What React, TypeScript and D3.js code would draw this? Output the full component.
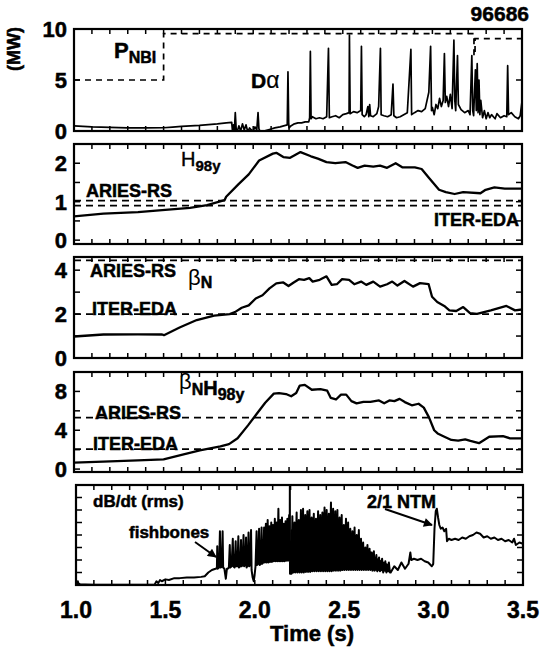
import React from "react";
import * as d3 from "d3";

// ---------- data ----------
const xTickLabels = ["1.0", "1.5", "2.0", "2.5", "3.0", "3.5"];
const xTickLabelValues = [1.0, 1.5, 2.0, 2.5, 3.0, 3.5];
const shotNumber = "96686";

const p1YLabels = [0, 5, 10];
const p2YLabels = [0, 1, 2];
const p3YLabels = [0, 2, 4];
const p4YLabels = [0, 4, 8];

// P_NBI (MW), dashed
const pnbi: [number, number][] = [
  [1.0, 5.0], [1.5, 5.0], [1.5, 9.55], [3.232, 9.55], [3.232, 7.4], [3.238, 7.4], [3.238, 9.05], [3.5, 9.05],
];

// D-alpha (a.u. on MW axis)
const dAlpha: [number, number][] = [
  [1.0, 0.5], [1.05, 0.45], [1.1, 0.4], [1.2, 0.35], [1.3, 0.3], [1.4, 0.3], [1.5, 0.32], [1.55, 0.38],
  [1.6, 0.45], [1.65, 0.5], [1.7, 0.55], [1.75, 0.62], [1.8, 0.7], [1.85, 0.8], [1.88, 0.85], [1.885, -0.1],
  [1.89, 0.6], [1.895, 0.0], [1.9, 1.8], [1.905, 0.2], [1.91, -0.1], [1.92, 0.5], [1.93, 0.0], [1.94, 0.7],
  [1.95, 0.1], [1.96, 0.6], [1.97, -0.1], [1.98, 0.3], [1.99, 0.1], [2.0, 0.0], [2.01, 0.4], [2.02, 0.1],
  [2.027, 1.8], [2.032, 0.2], [2.04, -0.1], [2.06, 0.0], [2.08, 0.1], [2.1, 0.2], [2.12, 0.3], [2.15, 0.4],
  [2.17, 0.5], [2.19, 0.6], [2.194, 5.8], [2.198, 0.8], [2.2, 0.3], [2.21, 0.5], [2.23, 0.7], [2.25, 0.8],
  [2.27, 0.8], [2.29, 0.9], [2.31, 0.9], [2.315, 1.3], [2.319, 7.8], [2.323, 1.2], [2.33, 1.4], [2.35, 1.2],
  [2.37, 1.3], [2.39, 1.2], [2.41, 1.4], [2.42, 8.1], [2.425, 1.3], [2.44, 1.4], [2.46, 1.5], [2.48, 1.3],
  [2.5, 1.6], [2.52, 1.7], [2.535, 1.8], [2.537, 9.4], [2.541, 1.7], [2.56, 1.9], [2.58, 1.8], [2.6, 2.0],
  [2.604, 8.3], [2.608, 1.6], [2.62, 1.4], [2.63, 1.6], [2.64, 2.4], [2.645, 1.4], [2.65, 2.6], [2.655, 1.5],
  [2.67, 1.4], [2.69, 1.7], [2.7, 2.4], [2.71, 8.1], [2.714, 1.6], [2.73, 1.5], [2.75, 1.4], [2.77, 1.6],
  [2.78, 4.6], [2.785, 1.5], [2.8, 1.3], [2.82, 1.4], [2.84, 1.6], [2.86, 1.8], [2.88, 8.0], [2.884, 1.6],
  [2.9, 1.8], [2.92, 2.0], [2.94, 1.9], [2.96, 2.2], [2.98, 3.8], [2.99, 8.3], [2.995, 2.0], [3.0, 2.3],
  [3.01, 1.6], [3.02, 2.6], [3.03, 2.2], [3.04, 3.2], [3.05, 2.4], [3.06, 3.0], [3.067, 7.6], [3.072, 2.8],
  [3.08, 3.4], [3.09, 2.4], [3.1, 3.6], [3.11, 2.2], [3.12, 8.9], [3.125, 3.0], [3.13, 2.0], [3.14, 7.4],
  [3.145, 2.6], [3.16, 2.1], [3.18, 1.8], [3.2, 2.0], [3.21, 1.6], [3.22, 7.4], [3.225, 2.0], [3.23, 1.5],
  [3.24, 6.0], [3.245, 2.0], [3.25, 6.6], [3.255, 1.8], [3.26, 5.0], [3.265, 1.6], [3.27, 3.0], [3.28, 1.3],
  [3.29, 2.0], [3.3, 1.2], [3.31, 1.8], [3.32, 1.3], [3.33, 1.6], [3.35, 1.2], [3.36, 1.7], [3.38, 1.3],
  [3.4, 1.5], [3.415, 1.4], [3.42, 6.4], [3.425, 1.6], [3.44, 1.8], [3.46, 1.4], [3.48, 1.2], [3.49, 1.5],
  [3.5, 2.9],
];

// H98y
const h98y: [number, number][] = [
  [1.0, 0.62], [1.164, 0.69], [1.357, 0.73], [1.492, 0.78], [1.647, 0.84], [1.743, 0.91], [1.84, 1.04],
  [1.849, 1.13], [1.917, 1.45], [1.975, 1.71], [2.033, 2.07], [2.11, 2.25], [2.129, 2.27], [2.168, 2.16],
  [2.206, 2.14], [2.264, 2.29], [2.322, 2.18], [2.361, 2.12], [2.409, 2.03], [2.458, 2.0], [2.515, 2.03],
  [2.554, 1.94], [2.583, 1.88], [2.622, 1.94], [2.67, 1.91], [2.708, 1.94], [2.747, 1.88], [2.795, 2.0],
  [2.834, 1.89], [2.902, 1.89], [2.94, 1.85], [2.979, 1.63], [3.037, 1.31], [3.075, 1.25], [3.124, 1.2],
  [3.172, 1.25], [3.268, 1.22], [3.297, 1.31], [3.346, 1.37], [3.404, 1.34], [3.5, 1.34],
];
const h98yAries = 1.03;
const h98yIter = 0.9;

// beta_N
const betaN: [number, number][] = [
  [1.0, 0.98], [1.164, 1.07], [1.357, 1.08], [1.492, 1.07], [1.502, 1.04], [1.589, 1.39], [1.685, 1.73],
  [1.782, 1.93], [1.869, 2.0], [1.898, 2.09], [1.936, 2.29], [1.975, 2.4], [2.014, 2.71], [2.052, 2.86],
  [2.091, 3.17], [2.129, 3.4], [2.168, 3.44], [2.197, 3.28], [2.226, 3.44], [2.255, 3.59], [2.284, 3.56],
  [2.313, 3.64], [2.332, 3.48], [2.371, 3.56], [2.409, 3.72], [2.438, 3.33], [2.467, 3.36], [2.496, 3.59],
  [2.535, 3.56], [2.564, 3.36], [2.602, 3.48], [2.631, 3.33], [2.67, 3.48], [2.708, 3.25], [2.747, 3.36],
  [2.776, 3.48], [2.805, 3.3], [2.844, 3.51], [2.892, 3.25], [2.931, 3.41], [2.979, 3.36], [2.998, 2.79],
  [3.027, 2.55], [3.066, 2.37], [3.095, 2.17], [3.133, 2.14], [3.172, 2.32], [3.21, 2.04], [3.249, 2.01],
  [3.326, 2.17], [3.413, 2.37], [3.461, 2.17], [3.5, 2.21],
];
const betaNAries = 4.45;
const betaNIter = 2.0;

// beta_N * H98y
const betaNH: [number, number][] = [
  [1.0, 0.67], [1.163, 0.77], [1.356, 0.9], [1.5, 1.0], [1.606, 1.5], [1.702, 1.93], [1.817, 2.33],
  [1.865, 2.57], [1.913, 3.17], [1.971, 4.5], [2.019, 5.67], [2.067, 6.83], [2.115, 7.77], [2.144, 7.83],
  [2.183, 7.73], [2.212, 7.5], [2.24, 7.83], [2.26, 8.6], [2.288, 8.67], [2.327, 8.17], [2.375, 8.23],
  [2.413, 8.07], [2.433, 7.33], [2.462, 7.17], [2.49, 7.67], [2.519, 7.67], [2.548, 7.0], [2.577, 6.77],
  [2.615, 6.93], [2.654, 6.93], [2.702, 7.07], [2.731, 6.77], [2.76, 7.07], [2.788, 7.0], [2.817, 7.23],
  [2.846, 6.9], [2.885, 6.57], [2.923, 6.73], [2.952, 6.33], [2.981, 5.33], [3.01, 4.0], [3.029, 3.67],
  [3.067, 3.33], [3.106, 3.0], [3.144, 2.93], [3.183, 3.07], [3.212, 2.9], [3.26, 2.67], [3.317, 3.33],
  [3.394, 3.4], [3.433, 3.17], [3.5, 3.17],
];
const betaNHAries = 5.3;
const betaNHIter = 2.05;

// dB/dt (rms), arbitrary units 0-8
const dbdt: [number, number][] = [
  [1.0, 0.25], [1.005, 0.15], [1.01, 0.3], [1.015, 0.1], [1.025, 0.05], [1.05, 0.05], [1.1, 0.03],
  [1.2, 0.03], [1.3, 0.03], [1.4, 0.03], [1.44, 0.05], [1.45, 0.3], [1.46, 0.15], [1.47, 0.4], [1.48, 0.3],
  [1.5, 0.45], [1.52, 0.4], [1.55, 0.55], [1.58, 0.55], [1.62, 0.6], [1.66, 0.6], [1.7, 0.65], [1.72, 0.7],
  [1.74, 1.0], [1.76, 1.2], [1.78, 1.3], [1.788, 1.35], [1.79, 3.1], [1.792, 1.3], [1.8, 1.4], [1.805, 4.3],
  [1.808, 1.4], [1.815, 1.45], [1.82, 4.3], [1.823, 1.4], [1.83, 1.3], [1.838, 0.5], [1.844, 1.3],
  [1.848, 1.3], [1.855, 1.4], [1.86, 3.2], [1.863, 1.4], [1.87, 1.5], [1.877, 3.7], [1.88, 1.5],
  [1.887, 1.4], [1.893, 3.5], [1.896, 1.5], [1.903, 1.5], [1.908, 3.9], [1.911, 1.4], [1.918, 1.5],
  [1.923, 3.6], [1.926, 1.5], [1.932, 1.6], [1.937, 4.0], [1.94, 1.5], [1.946, 1.6], [1.951, 3.8],
  [1.954, 1.4], [1.96, 1.6], [1.965, 4.2], [1.968, 1.5], [1.974, 1.6], [1.979, 4.4], [1.982, 1.2],
  [1.988, 0.6], [1.994, 0.3], [1.999, 0.8], [2.004, 1.5], [2.01, 4.3], [2.013, 1.6], [2.018, 1.7],
  [2.024, 4.5], [2.027, 1.6], [2.033, 1.7], [2.038, 4.6], [2.041, 1.7], [2.047, 1.8], [2.052, 4.6],
  [2.056, 1.8], [2.062, 4.9], [2.066, 1.8], [2.072, 5.2], [2.076, 1.8], [2.082, 4.7], [2.086, 1.85],
  [2.092, 5.0], [2.096, 1.85], [2.102, 4.8], [2.106, 1.9], [2.112, 5.3], [2.116, 1.9], [2.122, 5.0],
  [2.126, 1.9], [2.132, 6.1], [2.136, 1.9], [2.142, 5.2], [2.146, 1.9], [2.152, 5.4], [2.156, 1.9],
  [2.162, 4.9], [2.166, 1.9], [2.172, 5.1], [2.176, 1.95], [2.182, 5.3], [2.186, 1.95], [2.192, 5.6],
  [2.195, 1.95], [2.196, 8.0], [2.197, 0.9], [2.205, 0.9], [2.21, 5.5], [2.214, 1.0], [2.222, 5.0],
  [2.226, 1.0], [2.234, 5.8], [2.238, 1.0], [2.246, 5.2], [2.25, 1.0], [2.258, 6.0], [2.262, 1.0],
  [2.27, 6.1], [2.274, 1.0], [2.282, 5.6], [2.286, 1.05], [2.294, 5.9], [2.298, 1.05], [2.306, 6.0],
  [2.31, 1.05], [2.318, 5.4], [2.322, 1.1], [2.33, 5.7], [2.334, 1.1], [2.342, 5.3], [2.346, 1.1],
  [2.354, 5.9], [2.358, 1.1], [2.366, 5.6], [2.37, 1.1], [2.378, 5.8], [2.382, 1.1], [2.39, 6.2],
  [2.394, 1.1], [2.402, 6.0], [2.406, 1.1], [2.414, 5.7], [2.418, 1.1], [2.426, 6.6], [2.43, 1.1],
  [2.438, 6.1], [2.442, 1.15], [2.45, 5.9], [2.454, 1.15], [2.462, 6.0], [2.466, 1.15], [2.474, 5.4],
  [2.478, 1.15], [2.486, 5.6], [2.49, 1.2], [2.498, 4.8], [2.502, 1.2], [2.51, 5.3], [2.514, 1.2],
  [2.522, 5.0], [2.526, 1.2], [2.534, 4.5], [2.538, 1.2], [2.546, 4.3], [2.55, 1.2], [2.558, 4.6],
  [2.562, 1.2], [2.57, 4.0], [2.574, 1.2], [2.582, 4.4], [2.586, 1.2], [2.594, 3.7], [2.598, 1.2],
  [2.606, 3.4], [2.61, 1.2], [2.618, 3.0], [2.622, 1.2], [2.63, 3.2], [2.634, 1.2], [2.642, 2.9],
  [2.646, 1.2], [2.654, 2.6], [2.658, 1.15], [2.666, 2.7], [2.67, 1.15], [2.68, 2.4], [2.685, 1.1],
  [2.695, 2.2], [2.7, 1.1], [2.712, 2.1], [2.718, 1.0], [2.73, 1.9], [2.736, 1.0], [2.75, 1.8],
  [2.756, 1.0], [2.76, 1.0], [2.78, 1.5], [2.8, 1.2], [2.82, 1.8], [2.84, 1.3], [2.86, 1.7], [2.87, 2.6],
  [2.875, 2.0], [2.89, 2.1], [2.91, 2.0], [2.93, 2.1], [2.95, 1.9], [2.97, 1.8], [2.99, 1.5], [2.995, 1.6],
  [2.998, 1.7], [3.005, 4.5], [3.012, 5.9], [3.018, 6.1], [3.025, 5.4], [3.032, 4.8], [3.04, 4.5],
  [3.05, 4.6], [3.06, 4.3], [3.07, 4.5], [3.075, 3.5], [3.085, 3.7], [3.1, 3.6], [3.12, 3.7], [3.14, 3.6],
  [3.16, 3.8], [3.18, 3.7], [3.2, 3.9], [3.22, 4.0], [3.24, 4.2], [3.26, 4.1], [3.28, 3.8], [3.3, 3.9],
  [3.32, 3.7], [3.34, 3.8], [3.36, 3.6], [3.38, 3.7], [3.4, 3.5], [3.42, 3.6], [3.44, 3.4], [3.45, 3.7],
  [3.46, 3.2], [3.48, 3.4], [3.5, 3.3],
];

// dense oscillation envelopes (time, lower, upper)
const dbdtBandEarly: [number, number, number][] = [
  [2.05, 1.8, 3.9], [2.07, 1.8, 4.2], [2.09, 1.85, 4.0], [2.11, 1.9, 4.3], [2.13, 1.9, 4.5],
  [2.15, 1.9, 4.2], [2.17, 1.9, 4.1], [2.193, 1.95, 4.4],
];
const dbdtBandLate: [number, number, number][] = [
  [2.2, 0.9, 4.4], [2.235, 1.0, 4.7], [2.254, 1.0, 5.0], [2.273, 1.0, 5.1], [2.292, 1.05, 4.8],
  [2.31, 1.05, 5.0], [2.34, 1.1, 4.6], [2.37, 1.1, 4.9], [2.398, 1.1, 5.1], [2.427, 1.1, 5.3],
  [2.456, 1.15, 5.0], [2.485, 1.15, 4.6], [2.504, 1.2, 4.0], [2.523, 1.2, 4.4], [2.552, 1.2, 3.6],
  [2.58, 1.2, 3.7], [2.6, 1.2, 3.2], [2.62, 1.2, 2.6], [2.648, 1.2, 2.7], [2.677, 1.15, 2.2],
  [2.715, 1.1, 1.9], [2.754, 1.0, 1.6],
];

// ---------- drawing ----------
const FONT = "'Liberation Sans', Arial, Helvetica, sans-serif";

type PanelCfg = {
  top: number; bottom: number; left: number; right: number;
  domain: [number, number]; tickStep: number; labels: number[];
};

const panels: PanelCfg[] = [
  { top: 29, bottom: 131, left: 74, right: 522, domain: [0, 10], tickStep: 5, labels: p1YLabels },
  { top: 144, bottom: 244, left: 74, right: 522, domain: [-0.1, 2.5], tickStep: 0.5, labels: p2YLabels },
  { top: 257, bottom: 358, left: 74, right: 522, domain: [0, 4.6], tickStep: 1, labels: p3YLabels },
  { top: 372, bottom: 472, left: 74, right: 522, domain: [-0.3, 10], tickStep: 2, labels: p4YLabels },
  { top: 485, bottom: 585, left: 76, right: 523, domain: [0, 8], tickStep: 1, labels: [] },
];

function scalesFor(p: PanelCfg) {
  const x = d3.scaleLinear().domain([1.0, 3.5]).range([p.left, p.right]);
  const y = d3.scaleLinear().domain(p.domain).range([p.bottom, p.top]);
  return { x, y };
}

const heavy = { fontFamily: FONT, fontWeight: "bold" as const, stroke: "#000", strokeWidth: 0.5 };

function Frame({ p, idx }: { p: PanelCfg; idx: number }) {
  const { x, y } = scalesFor(p);
  const xt = x.ticks(25);
  const yt = d3.range(Math.ceil(p.domain[0] / p.tickStep - 1e-9) * p.tickStep, p.domain[1] + 1e-9, p.tickStep);
  const tl = 5;
  return (
    <g>
      {xt.map((t, i) => (
        <g key={"x" + i}>
          <line x1={x(t)} x2={x(t)} y1={p.top} y2={p.top + tl} stroke="#000" strokeWidth={1.5} />
          <line x1={x(t)} x2={x(t)} y1={p.bottom} y2={p.bottom - tl} stroke="#000" strokeWidth={1.5} />
        </g>
      ))}
      {yt.map((v, i) => (
        <g key={"y" + i}>
          <line x1={p.left} x2={p.left + tl + 1} y1={y(v)} y2={y(v)} stroke="#000" strokeWidth={1.5} />
          <line x1={p.right} x2={p.right - tl - 1} y1={y(v)} y2={y(v)} stroke="#000" strokeWidth={1.5} />
        </g>
      ))}
      {p.labels.map((v, i) => (
        <text key={"l" + i} x={67} y={y(v)} dy="0.36em" textAnchor="end" fontSize={22} {...heavy}>
          {v}
        </text>
      ))}
      <rect x={p.left} y={p.top} width={p.right - p.left} height={p.bottom - p.top} fill="none" stroke="#000" strokeWidth={2.2} />
      <clipPath id={"clip" + idx}>
        <rect x={p.left} y={p.top} width={p.right - p.left} height={p.bottom - p.top} />
      </clipPath>
    </g>
  );
}

function HLine({ p, v }: { p: PanelCfg; v: number }) {
  const { y } = scalesFor(p);
  return <line x1={p.left} x2={p.right} y1={y(v)} y2={y(v)} stroke="#000" strokeWidth={1.7} strokeDasharray="7,5" />;
}

export default function App() {
  const [P1, P2, P3, P4, P5] = panels;
  const s1 = scalesFor(P1), s2 = scalesFor(P2), s3 = scalesFor(P3), s4 = scalesFor(P4), s5 = scalesFor(P5);
  const mk = (s: { x: any; y: any }) => d3.line<[number, number]>().x((d) => s.x(d[0])).y((d) => s.y(d[1]));
  const band = (s: { x: any; y: any }) =>
    d3.area<[number, number, number]>().x((d) => s.x(d[0])).y0((d) => s.y(d[1])).y1((d) => s.y(d[2]));

  return (
    <svg width={541} height={651} style={{ position: "absolute", left: 0, top: 0, background: "#fff" }}>
      <defs>
        <marker id="arr" viewBox="0 0 10 10" refX="9" refY="5" markerWidth="10" markerHeight="9" markerUnits="userSpaceOnUse" orient="auto">
          <path d="M0,0 L10,5 L0,10 z" fill="#000" />
        </marker>
      </defs>
      <rect x={0} y={0} width={541} height={651} fill="#fff" />
      {panels.map((p, i) => <Frame key={i} p={p} idx={i} />)}

      {/* Panel 1 */}
      <g clipPath="url(#clip0)">
        <path d={mk(s1)(pnbi) || ""} fill="none" stroke="#000" strokeWidth={1.7} strokeDasharray="6,5" />
        <path d={mk(s1)(dAlpha) || ""} fill="none" stroke="#000" strokeWidth={1.7} strokeLinejoin="round" />
      </g>
      <text x={14} y={49} transform="rotate(-90 14 49)" textAnchor="middle" dy="0.36em" fontSize={18} {...heavy}>(MW)</text>
      <text x={529} y={21} textAnchor="end" fontSize={21} {...heavy}>{shotNumber}</text>
      <text x={114} y={58} fontSize={22} {...heavy}>P<tspan fontSize={16} dy={5}>NBI</tspan></text>
      <text x={251} y={88} fontSize={21} {...heavy}>D<tspan fontWeight="normal" strokeWidth={0.2} fontSize={23}>α</tspan></text>

      {/* Panel 2 */}
      <HLine p={P2} v={h98yAries} />
      <HLine p={P2} v={h98yIter} />
      <g clipPath="url(#clip1)">
        <path d={mk(s2)(h98y) || ""} fill="none" stroke="#000" strokeWidth={2.3} strokeLinejoin="round" />
      </g>
      <text x={181} y={166} fontSize={20} fontFamily={FONT} stroke="#000" strokeWidth={0.4}>H<tspan fontSize={15} fontWeight="bold" dy={5}>98y</tspan></text>
      <text x={86} y={197} fontSize={18} {...heavy}>ARIES-RS</text>
      <text x={519} y={226} textAnchor="end" fontSize={18} {...heavy}>ITER-EDA</text>

      {/* Panel 3 */}
      <HLine p={P3} v={betaNAries} />
      <HLine p={P3} v={betaNIter} />
      <g clipPath="url(#clip2)">
        <path d={mk(s3)(betaN) || ""} fill="none" stroke="#000" strokeWidth={2.3} strokeLinejoin="round" />
      </g>
      <text x={90} y={277} fontSize={18} {...heavy}>ARIES-RS</text>
      <text x={188} y={285} fontSize={22} fontFamily={FONT}>β<tspan fontSize={16} fontWeight="bold" stroke="#000" strokeWidth={0.5} dy={3}>N</tspan></text>
      <text x={92} y={315} fontSize={18} {...heavy}>ITER-EDA</text>

      {/* Panel 4 */}
      <HLine p={P4} v={betaNHAries} />
      <HLine p={P4} v={betaNHIter} />
      <g clipPath="url(#clip3)">
        <path d={mk(s4)(betaNH) || ""} fill="none" stroke="#000" strokeWidth={2.3} strokeLinejoin="round" />
      </g>
      <text x={179} y={389} fontSize={22} fontFamily={FONT}>
        β<tspan fontSize={16} fontWeight="bold" stroke="#000" strokeWidth={0.5} dy={6}>N</tspan>
        <tspan fontSize={20} fontWeight="bold" stroke="#000" strokeWidth={0.5} dy={0}>H</tspan>
        <tspan fontSize={16} fontWeight="bold" stroke="#000" strokeWidth={0.5} dy={5}>98y</tspan>
      </text>
      <text x={95} y={419} fontSize={18} {...heavy}>ARIES-RS</text>
      <text x={93} y={450} fontSize={18} {...heavy}>ITER-EDA</text>

      {/* Panel 5 */}
      <g clipPath="url(#clip4)">
        <path d={band(s5)(dbdtBandEarly) || ""} fill="#000" />
        <path d={band(s5)(dbdtBandLate) || ""} fill="#000" />
        <path d={mk(s5)(dbdt) || ""} fill="none" stroke="#000" strokeWidth={2} strokeLinejoin="round" />
      </g>
      <text x={93} y={507} fontSize={17} {...heavy}>dB/dt (rms)</text>
      <text x={129} y={538} fontSize={17} {...heavy}>fishbones</text>
      <text x={367} y={508} fontSize={18} {...heavy}>2/1 NTM</text>
      <line x1={195} y1={542} x2={216} y2={557} stroke="#000" strokeWidth={2} markerEnd="url(#arr)" />
      <line x1={385} y1={509} x2={432} y2={525} stroke="#000" strokeWidth={2} markerEnd="url(#arr)" />

      {/* x axis */}
      {xTickLabelValues.map((v, i) => (
        <text key={i} x={s5.x(v)} y={618} textAnchor="middle" fontSize={23} {...heavy}>{xTickLabels[i]}</text>
      ))}
      <text x={312} y={641} textAnchor="middle" fontSize={22} {...heavy}>Time (s)</text>
    </svg>
  );
}
